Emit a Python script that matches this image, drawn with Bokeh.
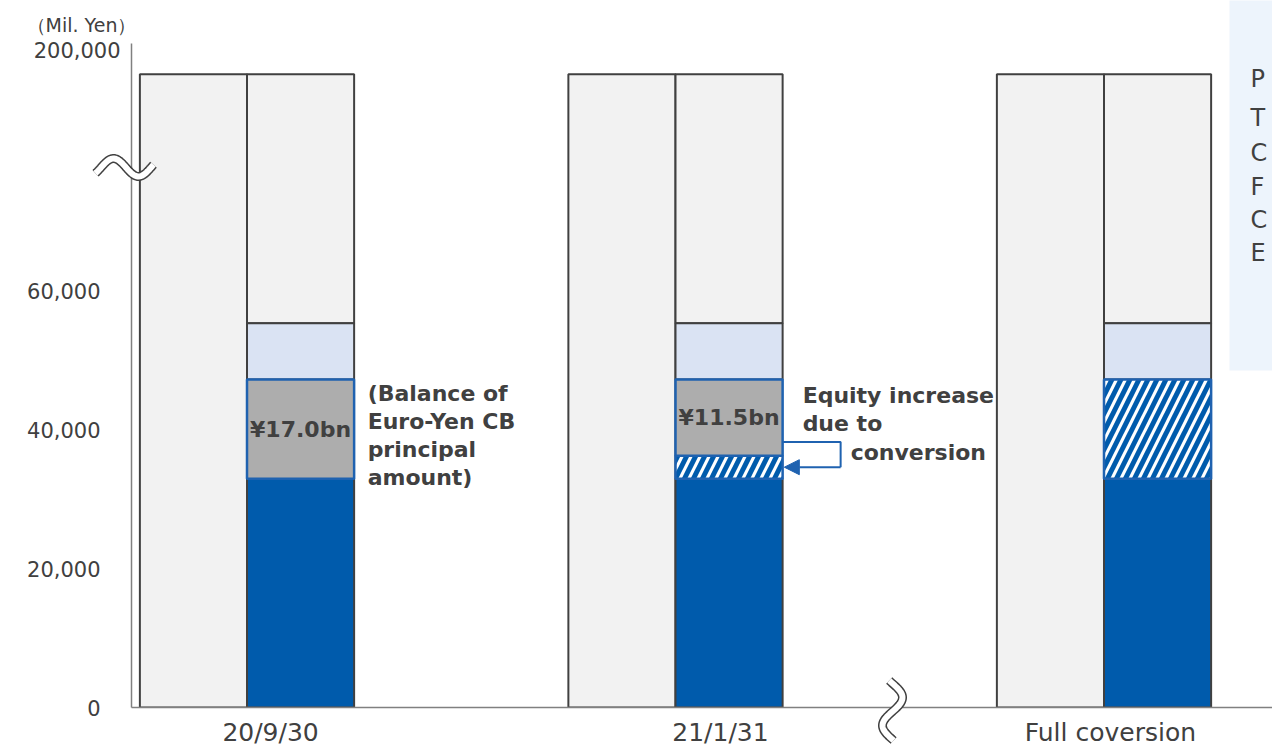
import numpy as np
from bokeh.plotting import figure
from bokeh.models import FixedTicker, Arrow, NormalHead, Range1d
from bokeh.core.properties import value
from bokeh.embed import file_html
from bokeh.resources import INLINE

# ---------------- data ----------------
categories = ["20/9/30", "21/1/31", "Full coversion"]
label_offsets = [0.055, 0.105, 0.015]          # tick-label shift from group centre
total_assets = [175000, 175000, 175000]
equity = [33000, 33000, 33000]
conversion_increase = [0, 3300, 14300]
cb_balance = [14300, 11000, 0]
other_liabilities = [8100, 8100, 8100]
cb_labels = ["¥17.0bn", "¥11.5bn", ""]
y_ticks = [0, 20000, 40000, 60000]
y_tick_labels = ["0", "20,000", "40,000", "60,000"]
y_top_tick = 200000
y_top_label = "200,000"
unit_label = "（Mil. Yen）"
note_cb = ["(Balance of", "Euro-Yen CB", "principal", "amount)"]
note_conv = ["Equity increase", "due to", "conversion"]
side_letters = ["P", "T", "C", "F", "C", "E"]

# broken y axis: linear up to BREAK_AT, compressed above
BREAK_AT = 78000
BREAK_K = 0.1372


def disp(v):
    return v if v <= BREAK_AT else BREAK_AT + (v - BREAK_AT) * BREAK_K


# ---------------- layout ----------------
W, H = 1272, 751
LEFT = 131
BOTTOM = 44
PX_X = 428.5          # pixels per group
PX_Y = 0.006935       # pixels per yen unit
frame_w = W - LEFT
frame_h = H - BOTTOM
x_start = (LEFT - 246.5) / PX_X
x_end = x_start + frame_w / PX_X
y_end = frame_h / PX_Y


def sx(px):  # canvas pixel -> data x (decorations only)
    return x_start + (px - LEFT) / PX_X


def sy(py):  # canvas pixel -> display y (decorations only)
    return (frame_h - py) / PX_Y


DARK = "#404040"
AXIS = "#808080"
LGRAY = "#F2F2F2"
LBLUE = "#DAE3F3"
NAVY = "#005BAC"
EDGE = "#1F62B0"
CBGRAY = "#ADADAD"
FONT = "DejaVu Sans"

p = figure(frame_width=frame_w, frame_height=frame_h, output_backend="svg",
           toolbar_location=None,
           x_range=Range1d(x_start, x_end), y_range=Range1d(0, y_end),
           min_border_left=LEFT, min_border_right=0, min_border_top=0,
           min_border_bottom=BOTTOM)
p.outline_line_color = None
p.grid.visible = False
p.background_fill_color = "white"
p.border_fill_color = "white"

# side panel box (right)
p.quad(left=[sx(1229)], right=[x_end + 1], bottom=[sy(370)], top=[y_end * 1.2],
       fill_color="#EDF4FC", line_color=None)

n = len(categories)
xs_left = [i - 0.125 for i in range(n)]
xs_right = [i + 0.125 for i in range(n)]

# assets bar
p.vbar(x=xs_left, width=0.25, bottom=0, top=[disp(v) for v in total_assets],
       fill_color=LGRAY, line_color=DARK, line_width=2)

conv_bot = equity
conv_top = [e + c for e, c in zip(equity, conversion_increase)]
cb_bot = conv_top
cb_top = [b + c for b, c in zip(cb_bot, cb_balance)]
ol_top = [b + o for b, o in zip(cb_top, other_liabilities)]

# liabilities + net assets
p.vbar(x=xs_right, width=0.25, bottom=[disp(v) for v in ol_top],
       top=[disp(v) for v in total_assets], fill_color=LGRAY, line_color=DARK, line_width=2)
p.vbar(x=xs_right, width=0.25, bottom=[disp(v) for v in cb_top],
       top=[disp(v) for v in ol_top], fill_color=LBLUE, line_color=DARK, line_width=2)
p.vbar(x=xs_right, width=0.25, bottom=0, top=[disp(v) for v in equity],
       fill_color=NAVY, line_color=DARK, line_width=2)

hx = [x for x, c in zip(xs_right, conversion_increase) if c > 0]
hb = [disp(b) for b, c in zip(conv_bot, conversion_increase) if c > 0]
ht = [disp(t) for t, c in zip(conv_top, conversion_increase) if c > 0]
p.vbar(x=hx, width=0.25, bottom=hb, top=ht, fill_color="white", hatch_pattern="/",
       hatch_color=NAVY, hatch_weight=5, hatch_scale=18, line_color=EDGE, line_width=2.5)

cx = [x for x, c in zip(xs_right, cb_balance) if c > 0]
cbb = [disp(b) for b, c in zip(cb_bot, cb_balance) if c > 0]
cbt = [disp(t) for t, c in zip(cb_top, cb_balance) if c > 0]
p.vbar(x=cx, width=0.25, bottom=cbb, top=cbt, fill_color=CBGRAY,
       line_color=EDGE, line_width=2.5)

# CB amount labels
lab_x = [x for x, l in zip(xs_right, cb_labels) if l]
lab_y = [disp((b + t) / 2) for b, t, l in zip(cb_bot, cb_top, cb_labels) if l]
p.text(x=lab_x, y=lab_y, text=[l for l in cb_labels if l], text_font=value(FONT),
       text_font_style="bold", text_font_size="22px", text_color=DARK,
       text_align="center", text_baseline="middle")

# notes
line_step = 28 / PX_Y
y0 = disp(cb_top[0]) - 2000
p.text(x=[0.25 + 13.5 / PX_X] * len(note_cb),
       y=[y0 - i * line_step for i in range(len(note_cb))], text=note_cb,
       text_font=value(FONT), text_font_style="bold", text_font_size="22px",
       text_color=DARK, text_align="left", text_baseline="middle")
y1 = disp(cb_top[1]) - 2300
p.text(x=[1.25 + 20 / PX_X, 1.25 + 20 / PX_X, 1.25 + 68 / PX_X],
       y=[y1, y1 - line_step, y1 - 2.05 * line_step], text=note_conv,
       text_font=value(FONT), text_font_style="bold", text_font_size="22px",
       text_color=DARK, text_align="left", text_baseline="middle")

# connector arrow
ax0 = 1.25
ax1 = 1.25 + 58 / PX_X
ya = disp(cb_bot[1] + 2000)
yb = disp((conv_bot[1] + conv_top[1]) / 2)
p.line(x=[ax0, ax1, ax1], y=[ya, ya, yb], line_color=EDGE, line_width=2)
p.add_layout(Arrow(end=NormalHead(size=15, fill_color=EDGE, line_color=EDGE),
                   x_start=ax1, y_start=yb, x_end=ax0 + 0.004, y_end=yb,
                   line_color=EDGE, line_width=2))

# side panel letters (the reference cuts them at the window edge)
side_y = [78, 117, 152, 186, 219, 252]
p.text(x=[sx(1250)] * len(side_letters), y=[sy(v) for v in side_y], text=side_letters,
       text_font=value(FONT), text_font_size="24px", text_color=DARK,
       text_align="left", text_baseline="middle")

# axes
yax = p.yaxis[0]
yax.ticker = FixedTicker(ticks=y_ticks)
yax.major_label_overrides = {t: l for t, l in zip(y_ticks, y_tick_labels)}
yax.bounds = (0, sy(43))
yax.axis_line_color = AXIS
yax.axis_line_width = 1.5
yax.major_tick_line_color = None
yax.minor_tick_line_color = None
yax.major_tick_out = 0
yax.major_tick_in = 0
yax.minor_tick_out = 0
yax.major_label_standoff = 31
yax.major_label_text_font = FONT
yax.major_label_text_font_size = "21px"
yax.major_label_text_color = DARK

xticks = [round(i + o, 3) for i, o in enumerate(label_offsets)]
xax = p.xaxis[0]
xax.ticker = FixedTicker(ticks=xticks)
xax.major_label_overrides = {t: c for t, c in zip(xticks, categories)}
xax.axis_line_color = AXIS
xax.axis_line_width = 1.5
xax.major_tick_line_color = None
xax.minor_tick_line_color = None
xax.major_tick_out = 0
xax.major_tick_in = 0
xax.minor_tick_out = 0
xax.major_label_standoff = 10
xax.major_label_text_font = FONT
xax.major_label_text_font_size = "25px"
xax.major_label_text_color = DARK

# texts outside the frame (unclipped overlay level)
p.text(x=[sx(120)], y=[disp(y_top_tick)], text=[y_top_label], text_align="right",
       text_baseline="middle", text_font=value(FONT), text_font_size="21px",
       text_color=DARK, level="overlay")
p.text(x=[sx(81)], y=[sy(24)], text=[unit_label], text_align="center",
       text_baseline="middle", text_font=value(FONT), text_font_size="19px",
       text_color=DARK, level="overlay")

# axis-break symbols
t = np.linspace(95, 153, 60)
bx = [sx(v) for v in t]
by = [sy(167 - 9 * np.sin(2 * np.pi * (v - 100.5) / 50)) for v in t]
p.line(bx, by, line_color=DARK, line_width=9, level="overlay")
p.line(bx, by, line_color="white", line_width=6, level="overlay")

u = np.linspace(680, 740, 60)
vx = [sx(892 + 10 * np.sin(2 * np.pi * (v - 683) / 56)) for v in u]
vy = [sy(v) for v in u]
p.line(vx, vy, line_color=DARK, line_width=9, level="overlay")
p.line(vx, vy, line_color="white", line_width=6, level="overlay")

open("out.html", "w").write(file_html(p, INLINE))
